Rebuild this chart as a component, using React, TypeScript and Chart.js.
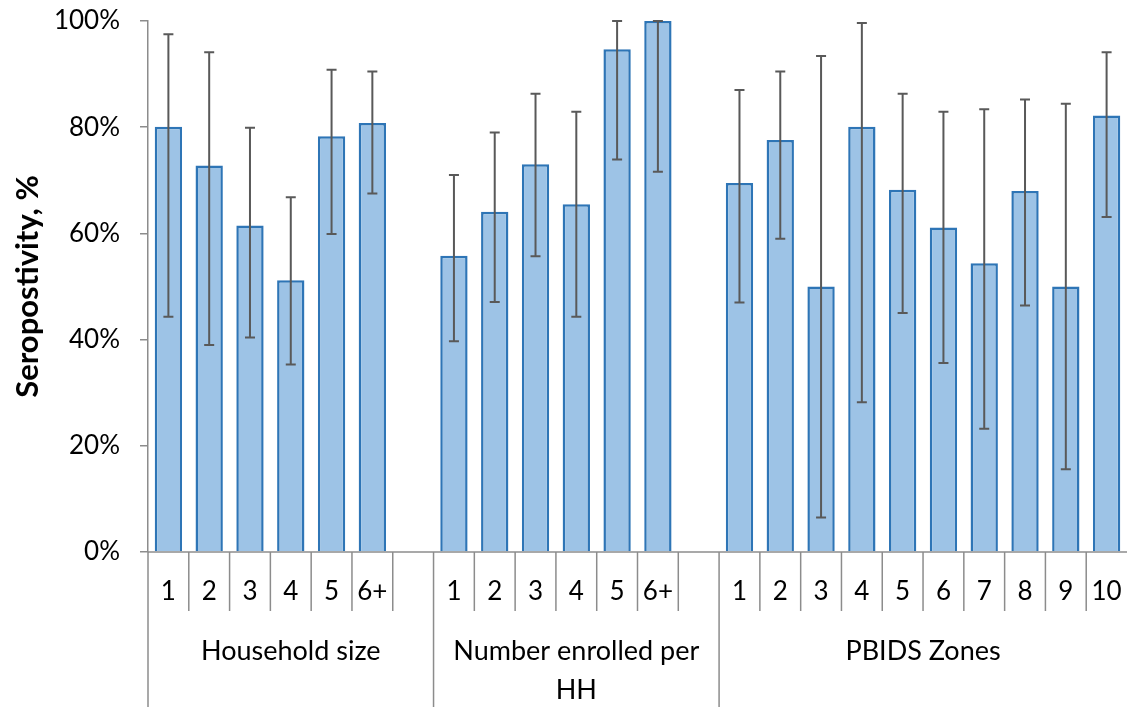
import React, { useEffect, useRef } from 'react';
import { Chart, registerables } from 'chart.js';

Chart.register(...registerables);

// ---- Data ----
const householdLabels = ['1', '2', '3', '4', '5', '6+'];
const householdValues = [80.1, 72.8, 61.5, 51.2, 78.3, 80.8];
const householdLower = [44.3, 39.0, 40.4, 35.3, 59.9, 67.5];
const householdUpper = [97.5, 94.1, 79.9, 66.8, 90.8, 90.5];

const enrolledLabels = ['1', '2', '3', '4', '5', '6+'];
const enrolledValues = [55.8, 64.1, 73.0, 65.5, 94.7, 100];
const enrolledLower = [39.7, 47.1, 55.7, 44.3, 73.9, 71.6];
const enrolledUpper = [71.0, 79.0, 86.3, 82.9, 100, 100];

const zoneLabels = ['1', '2', '3', '4', '5', '6', '7', '8', '9', '10'];
const zoneValues = [69.5, 77.6, 50.0, 80.1, 68.2, 61.1, 54.4, 68.0, 50.0, 82.2];
const zoneLower = [47.0, 59.0, 6.5, 28.2, 45.0, 35.6, 23.2, 46.4, 15.6, 63.1];
const zoneUpper = [87.0, 90.5, 93.4, 99.6, 86.3, 82.9, 83.4, 85.2, 84.4, 94.1];

const groupNames = [['Household size'], ['Number enrolled per', 'HH'], ['PBIDS Zones']];
const yTickValues = [0, 20, 40, 60, 80, 100];
const yTitle = 'Seropostivity, %';

// ---- Build combined arrays (with a spacer slot between groups) ----
const groups = [
  { name: groupNames[0], labels: householdLabels, values: householdValues, lower: householdLower, upper: householdUpper },
  { name: groupNames[1], labels: enrolledLabels, values: enrolledValues, lower: enrolledLower, upper: enrolledUpper },
  { name: groupNames[2], labels: zoneLabels, values: zoneValues, lower: zoneLower, upper: zoneUpper },
];

const allLabels: string[] = [];
const allValues: (number | null)[] = [];
const allLower: (number | null)[] = [];
const allUpper: (number | null)[] = [];
groups.forEach((g, gi) => {
  g.labels.forEach((l, i) => {
    allLabels.push(l);
    allValues.push(g.values[i]);
    allLower.push(g.lower[i]);
    allUpper.push(g.upper[i]);
  });
  if (gi < groups.length - 1) {
    allLabels.push('');
    allValues.push(null);
    allLower.push(null);
    allUpper.push(null);
  }
});

const FONT = 'Lato, "Open Sans", sans-serif';
const AXIS_COLOR = '#8c8c8c';
const TEXT_COLOR = '#000000';
const ERR_COLOR = '#595959';

const errorBarPlugin = {
  id: 'errorBars',
  afterDatasetsDraw(chart: any) {
    const ctx = chart.ctx;
    const meta = chart.getDatasetMeta(0);
    const y = chart.scales.y;
    ctx.save();
    ctx.strokeStyle = ERR_COLOR;
    ctx.lineWidth = 2;
    meta.data.forEach((bar: any, i: number) => {
      const lo = allLower[i];
      const hi = allUpper[i];
      if (lo == null || hi == null) return;
      const x = bar.x;
      const yl = y.getPixelForValue(lo);
      const yh = y.getPixelForValue(hi);
      const cap = 5;
      ctx.beginPath();
      ctx.moveTo(x, yl);
      ctx.lineTo(x, yh);
      ctx.moveTo(x - cap, yh);
      ctx.lineTo(x + cap, yh);
      ctx.moveTo(x - cap, yl);
      ctx.lineTo(x + cap, yl);
      ctx.stroke();
    });
    ctx.restore();
  },
};

const groupAxisPlugin = {
  id: 'groupAxis',
  afterDraw(chart: any) {
    const ctx = chart.ctx;
    const xs = chart.scales.x;
    const area = chart.chartArea;
    const half = (xs.getPixelForValue(1) - xs.getPixelForValue(0)) / 2;
    const bottom = area.bottom;
    ctx.save();
    ctx.strokeStyle = AXIS_COLOR;
    ctx.lineWidth = 1.5;
    ctx.beginPath();
    ctx.moveTo(area.left, bottom);
    ctx.lineTo(area.right, bottom);
    ctx.stroke();

    ctx.fillStyle = TEXT_COLOR;
    ctx.textAlign = 'center';
    ctx.textBaseline = 'middle';

    let idx = 0;
    groups.forEach((g, gi) => {
      const count = g.labels.length + (gi < groups.length - 1 ? 1 : 0);
      const gLeft = xs.getPixelForValue(idx) - half;
      const gRight = xs.getPixelForValue(idx + count - 1) + half;
      ctx.beginPath();
      ctx.moveTo(gLeft, bottom);
      ctx.lineTo(gLeft, chart.height);
      ctx.stroke();
      for (let k = 1; k < count; k++) {
        const sx = xs.getPixelForValue(idx + k) - half;
        ctx.beginPath();
        ctx.moveTo(sx, bottom);
        ctx.lineTo(sx, bottom + 59);
        ctx.stroke();
      }
      ctx.font = `26px ${FONT}`;
      g.labels.forEach((l, k) => {
        ctx.fillText(l, xs.getPixelForValue(idx + k), bottom + 40);
      });
      ctx.font = `27px ${FONT}`;
      const cx = (gLeft + gRight) / 2;
      g.name.forEach((line, li) => {
        ctx.fillText(line, cx, bottom + 99 + li * 39);
      });
      idx += count;
    });
    ctx.restore();
  },
};

export default function App() {
  const canvasRef = useRef<HTMLCanvasElement | null>(null);

  useEffect(() => {
    if (!canvasRef.current) return;
    const chart = new Chart(canvasRef.current, {
      type: 'bar',
      data: {
        labels: allLabels,
        datasets: [
          {
            data: allValues as any,
            backgroundColor: '#9dc3e6',
            borderColor: '#2e75b6',
            borderWidth: 2.5,
            categoryPercentage: 1,
            barPercentage: 0.67,
          },
        ],
      },
      options: {
        responsive: false,
        animation: false,
        layout: { padding: { left: 0, right: 0, top: 21, bottom: 155 } },
        plugins: {
          legend: { display: false },
          tooltip: { enabled: false },
        },
        scales: {
          x: {
            display: false,
          },
          y: {
            min: 0,
            max: 100,
            afterBuildTicks: (scale: any) => {
              scale.ticks = yTickValues.map((v) => ({ value: v }));
            },
            afterFit: (scale: any) => {
              scale.width = 148;
              scale.paddingTop = 0;
              scale.paddingBottom = 0;
            },
            ticks: {
              callback: (v: any) => `${v}%`,
              font: { family: FONT, size: 26 },
              color: TEXT_COLOR,
              padding: 20,
            },
            grid: {
              drawOnChartArea: false,
              drawTicks: true,
              tickLength: 8,
              color: AXIS_COLOR,
              lineWidth: 1.5,
            },
            border: { display: true, color: AXIS_COLOR, width: 1.5 },
            title: {
              display: true,
              text: yTitle,
              font: { family: FONT, size: 31, weight: 'bold' },
              color: TEXT_COLOR,
              padding: { top: 9, bottom: 0 },
            },
          },
        },
      },
      plugins: [errorBarPlugin, groupAxisPlugin],
    });
    return () => chart.destroy();
  }, []);

  return (
    <div style={{ position: 'absolute', left: 0, top: 0, width: 1127, height: 707, background: '#fff' }}>
      <canvas ref={canvasRef} width={1127} height={707} style={{ display: 'block' }} />
    </div>
  );
}
